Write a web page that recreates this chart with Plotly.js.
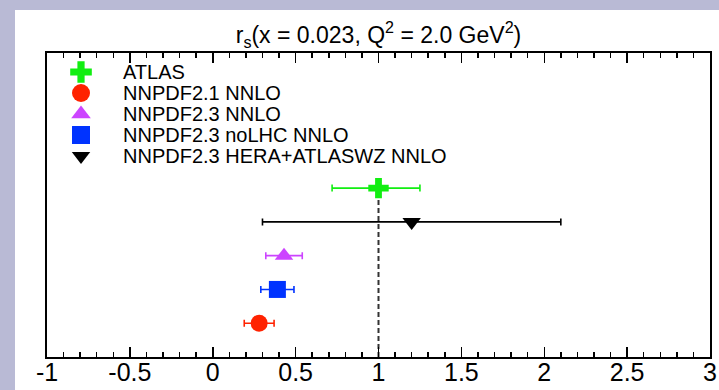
<!DOCTYPE html>
<html><head><meta charset="utf-8">
<script src="https://cdn.plot.ly/plotly-3.0.1.min.js"></script>
<style>
html,body{margin:0;padding:0;background:#b9bad5;overflow:hidden;}
#panel{position:absolute;left:15px;top:10px;right:0;bottom:0;background:#ffffff;}
#chart{position:absolute;left:0;top:0;width:719px;height:390px;}
</style>
</head><body>
<div id="panel"></div>
<div id="chart"></div>
<script>
// ---- data ----
const seriesNames = ['ATLAS', 'NNPDF2.1 NNLO', 'NNPDF2.3 NNLO', 'NNPDF2.3 noLHC NNLO', 'NNPDF2.3 HERA+ATLASWZ NNLO'];
const seriesRs    = [1.00, 0.28, 0.43, 0.39, 1.20];
const errPlus     = [0.25, 0.09, 0.11, 0.10, 0.90];
const errMinus    = [0.28, 0.09, 0.11, 0.10, 0.90];
const rowPos      = [5, 1, 3, 2, 4];
const refLineX    = [1, 1];
const refLineY    = [0, 5];
const tickVals    = [-1, -0.5, 0, 0.5, 1, 1.5, 2, 2.5, 3];
const tickLabels  = ['-1', '-0.5', '0', '0.5', '1', '1.5', '2', '2.5', '3'];
const titleText   = 'r<sub>s</sub>(x = 0.023, Q<sup>2</sup> = 2.0 GeV<sup>2</sup>)';

// ---- styles ----
const colors  = ['#11ee11', '#ff2200', '#cc44ff', '#0033ff', '#000000'];
const symbols = ['cross', 'circle', 'triangle-up', 'square', 'triangle-down'];
const sizes   = [17, 17, 16, 17, 16];
const FONT = 'Liberation Sans, Arial, Helvetica, sans-serif';

const traces = [];
traces.push({
  x: refLineX, y: refLineY, mode: 'lines', type: 'scatter',
  line: {color: '#333333', width: 2, dash: '5px,3px'},
  showlegend: false, hoverinfo: 'skip'
});
seriesNames.forEach((name, i) => {
  traces.push({
    x: [seriesRs[i]], y: [rowPos[i]], type: 'scatter', mode: 'markers', name: name,
    marker: {symbol: symbols[i], size: sizes[i], color: colors[i], opacity: 1, line: {width: 0}},
    error_x: {type: 'data', symmetric: false, array: [errPlus[i]], arrayminus: [errMinus[i]],
              color: colors[i], thickness: 1.6, width: 3.5},
    showlegend: false, cliponaxis: false
  });
});

// custom legend (markers on an overlay axis, names as annotations)
const legX = 0.0513, legTextX = 0.1146, legTop = 0.9375, legStep = 0.0691;
const legY = seriesNames.map((_, i) => legTop - i * legStep);
traces.push({
  x: seriesNames.map(() => legX), y: legY, xaxis: 'x2', yaxis: 'y2',
  type: 'scatter', mode: 'markers', showlegend: false, hoverinfo: 'skip', cliponaxis: false,
  marker: {symbol: symbols, color: colors, opacity: 1, size: [18, 18, 17, 18, 16], line: {width: 0}}
});
const annotations = seriesNames.map((name, i) => ({
  text: name, x: legTextX - 0.003, y: legY[i], xref: 'paper', yref: 'paper',
  xanchor: 'left', yanchor: 'middle', showarrow: false,
  font: {family: FONT, size: 20, color: '#000'}
}));

const layout = {
  width: 719, height: 390,
  margin: {l: 47, r: 9, t: 53, b: 33, pad: 0},
  paper_bgcolor: 'rgba(0,0,0,0)', plot_bgcolor: 'rgba(0,0,0,0)',
  font: {family: FONT, color: '#000'},
  showlegend: false,
  title: {text: titleText, x: 0.5, xref: 'paper', xanchor: 'center',
          y: 1 - 35 / 390, yref: 'container', yanchor: 'middle',
          font: {family: FONT, size: 23, color: '#000'}},
  xaxis: {
    range: [-1, 3], tickmode: 'array', tickvals: tickVals, ticktext: tickLabels,
    ticks: 'inside', ticklen: 10, tickwidth: 1.5, tickcolor: '#000',
    minor: {dtick: 0.1, tick0: -1, ticks: 'inside', ticklen: 5, tickwidth: 1.5, tickcolor: '#000', showgrid: false},
    showline: true, linewidth: 2, linecolor: '#000', mirror: 'ticks',
    showgrid: false, zeroline: false, fixedrange: true,
    ticklabelstandoff: -8,
    tickfont: {family: FONT, size: 25, color: '#000'}
  },
  yaxis: {
    range: [0, 9], showticklabels: false, ticks: '',
    showline: true, linewidth: 2, linecolor: '#000', mirror: true,
    showgrid: false, zeroline: false, fixedrange: true
  },
  xaxis2: {overlaying: 'x', range: [0, 1], visible: false, fixedrange: true},
  yaxis2: {overlaying: 'y', range: [0, 1], visible: false, fixedrange: true},
  annotations: annotations
};

Plotly.newPlot('chart', traces, layout, {displayModeBar: false, staticPlot: true});
</script>
</body></html>
